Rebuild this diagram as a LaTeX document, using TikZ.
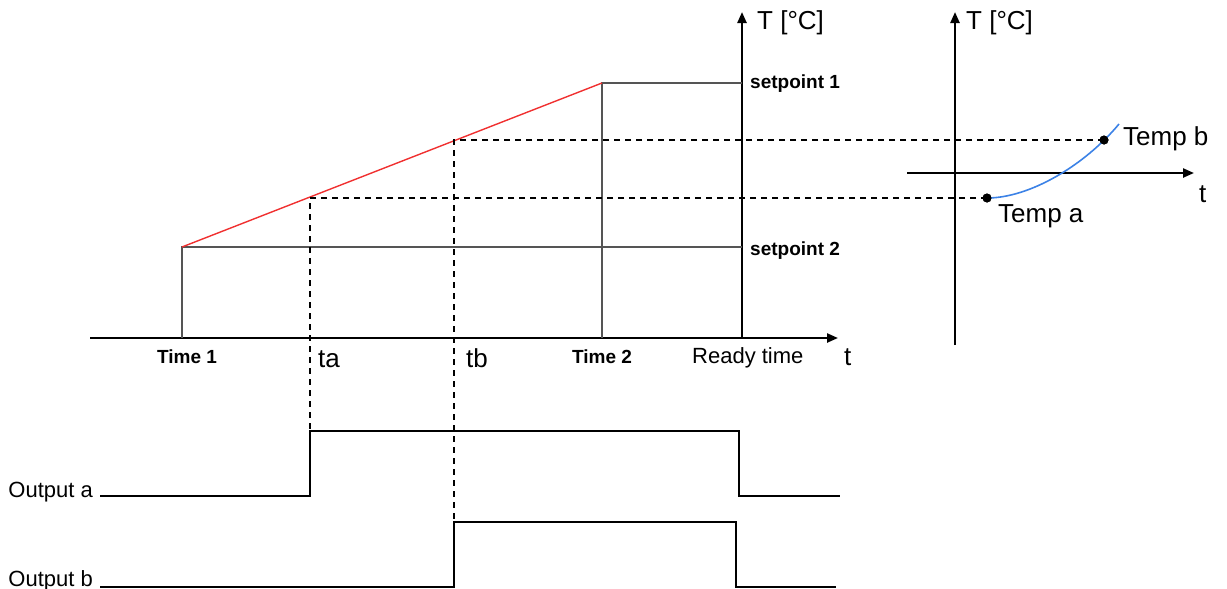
\documentclass[tikz,border=0pt]{standalone}
\usepackage{fontspec}
\setmainfont{Liberation Sans}
\usetikzlibrary{arrows.meta}
\definecolor{rampred}{HTML}{F03030}
\definecolor{curveblue}{HTML}{3C82E6}
\definecolor{gridgray}{HTML}{555555}
\begin{document}
\begin{tikzpicture}[x=1pt,y=-1pt,
  axis/.style={line width=2.3pt,-{Triangle[length=11pt,width=9pt]}},
  grayline/.style={line width=1.6pt,draw=gridgray},
  ramp/.style={line width=1.4pt,draw=rampred},
  guide/.style={line width=1.6pt,dash pattern=on 6pt off 5pt},
  signal/.style={line width=2.3pt,line join=miter},
  tcurve/.style={line width=1.6pt,draw=curveblue},
  dotmark/.style={circle,fill=black,inner sep=0pt,minimum size=9pt},
  bigtxt/.style={font=\fontsize{26}{28}\selectfont,inner sep=0pt,anchor=base west},
  midtxt/.style={font=\fontsize{22}{24}\selectfont,inner sep=0pt},
  boldtxt/.style={font=\fontsize{19}{21}\selectfont\bfseries,inner sep=0pt}
]
\useasboundingbox (0,0) rectangle (1227,589);

% main axes
\coordinate (O) at (90,338);
\coordinate (tend) at (838,338);
\coordinate (Ybot) at (742,338);
\coordinate (Ytop) at (742,12);
\draw[axis] (O) -- (tend);
\draw[axis] (Ybot) -- (Ytop);

% setpoints and ramp
\coordinate (t1b) at (182,338);
\coordinate (t1t) at (182,247);
\coordinate (sp2e) at (742,247);
\coordinate (t2t) at (602,83);
\coordinate (t2b) at (602,338);
\coordinate (sp1e) at (742,83);
\draw[grayline] (t1b) -- (t1t) -- (sp2e);
\draw[grayline] (t2b) -- (t2t) -- (sp1e);
\draw[ramp] (t1t) -- (t2t);

% right axes
\coordinate (Ry0) at (955,345);
\coordinate (Ry1) at (955,12);
\coordinate (Rx0) at (907,173);
\coordinate (Rx1) at (1194,173);
\draw[axis] (Ry0) -- (Ry1);
\draw[axis] (Rx0) -- (Rx1);

% curve and dots
\coordinate (cend) at (1119,124);
\node[dotmark] (pa) at (987,198) {};
\node[dotmark] (pb) at (1104,140) {};
\draw[tcurve] (pa.center) .. controls (1030,198) and (1085,165) .. (cend);
\node[dotmark] at (987,198) {};
\node[dotmark] at (1104,140) {};

% guides
\coordinate (ta) at (310,198);
\coordinate (tb) at (454,140);
\coordinate (taL) at (310,431);
\coordinate (tbL) at (454,522);
\draw[guide] (pa.center) -- (ta) -- (taL);
\draw[guide] (pb.center) -- (tb) -- (tbL);

% outputs
\coordinate (oa0) at (100,496);
\coordinate (oa1) at (310,496);
\coordinate (oa3) at (739,431);
\coordinate (oa5) at (840,496);
\draw[signal] (oa0) -- (oa1) -- (taL) -- (oa3) -- (739,496) -- (oa5);
\coordinate (ob0) at (100,587);
\coordinate (ob1) at (454,587);
\coordinate (ob3) at (736,522);
\coordinate (ob5) at (836,587);
\draw[signal] (ob0) -- (ob1) -- (tbL) -- (ob3) -- (736,587) -- (ob5);

% labels
\node[bigtxt] (Tl) at (757,29) {T [°C]};
\node[bigtxt] (Tr) at (966,29) {T [°C]};
\node[bigtxt] (tl) at (844,365) {t};
\node[bigtxt] (tr) at (1199,202) {t};
\node[bigtxt] (tal) at (318,367) {ta};
\node[bigtxt] (tbl) at (466,367) {tb};
\node[bigtxt] (tempb) at (1123,145) {Temp b};
\node[bigtxt] (tempa) at (998,222) {Temp a};
\node[boldtxt,anchor=base] (time1) at (187,363) {Time 1};
\node[boldtxt,anchor=base] (time2) at (602,363) {Time 2};
\node[midtxt,anchor=base west] (ready) at (692,363) {Ready time};
\node[boldtxt,anchor=base west] (sp1) at (750,88) {setpoint 1};
\node[boldtxt,anchor=base west] (sp2) at (750,255) {setpoint 2};
\node[midtxt,anchor=base east] (outa) at (93,497) {Output a};
\node[midtxt,anchor=base east] (outb) at (93,586) {Output b};
\end{tikzpicture}
\end{document}
